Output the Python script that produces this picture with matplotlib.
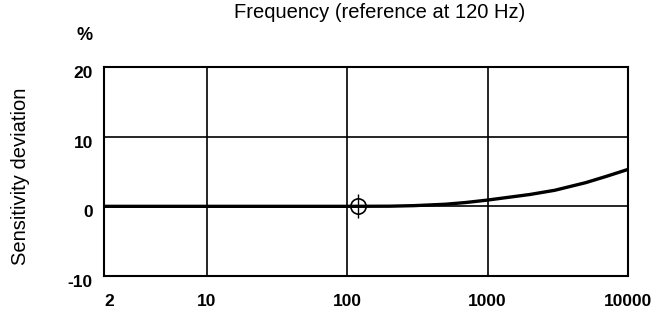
import matplotlib.pyplot as plt
from matplotlib.transforms import ScaledTranslation

plt.rcParams['font.family'] = ['Liberation Sans', 'DejaVu Sans']

# frequency response (curve runs from the left edge)
freq = [1.85, 10, 50, 100, 200, 300, 500, 700, 1000, 2000, 3000, 5000, 7000, 10000]
deviation = [0, 0, 0, 0, 0.02, 0.1, 0.3, 0.55, 0.9, 1.7, 2.3, 3.4, 4.3, 5.3]

ref_freq = [120]
ref_dev = [0]

xticks = [2, 10, 100, 1000, 10000]
yticks = [-10, 0, 10, 20]

fig = plt.figure(figsize=(6.62, 3.16), dpi=100)
ax = fig.add_axes([104 / 662, 1 - 276 / 316, (628 - 104) / 662, (276 - 67) / 316])

ax.plot(freq, deviation, color='black', lw=2.4, solid_capstyle='butt', zorder=3)
# reference marker: circle with cross
ax.plot(ref_freq, ref_dev, 'o', ms=11, mfc='none', mec='black', mew=1.2, zorder=4)
ax.plot(ref_freq, ref_dev, '|', ms=17, mec='black', mew=1.0, zorder=4)
ax.plot(ref_freq, ref_dev, '_', ms=11, mec='black', mew=1.0, zorder=4)

ax.set_xscale('log')
ax.set_xlim(1.85, 10000)
ax.set_ylim(-10, 20)
ax.set_xticks(xticks)
ax.set_xticklabels([str(t) for t in xticks])
ax.xaxis.set_minor_locator(plt.NullLocator())
ax.set_yticks(yticks)
ax.set_yticklabels([str(t) for t in yticks])
ax.tick_params(length=0, labelsize=12.5)
ax.tick_params(axis='x', pad=13)
ax.tick_params(axis='y', pad=8)
shift = ScaledTranslation(0, -3.5 / 72, fig.dpi_scale_trans)
for lab in ax.get_yticklabels():
    lab.set_transform(lab.get_transform() + shift)
for lab in ax.get_xticklabels() + ax.get_yticklabels():
    lab.set_fontweight('bold')

ax.grid(True, which='major', color='black', lw=1.2)
ax.xaxis.get_major_ticks()[0].gridline.set_visible(False)  # no line at 2
for s in ax.spines.values():
    s.set_linewidth(1.5)

fig.text(380 / 662, 1 - 18 / 316, 'Frequency (reference at 120 Hz)', ha='center', va='baseline', fontsize=14.5)
fig.text(85 / 662, 1 - 35 / 316, '%', ha='center', va='center', fontsize=13, fontweight='bold')
fig.text(21 / 662, 1 - 176 / 316, 'Sensitivity deviation', rotation=90, ha='center', va='center', fontsize=14.5)

fig.savefig('out.png', dpi=100)
